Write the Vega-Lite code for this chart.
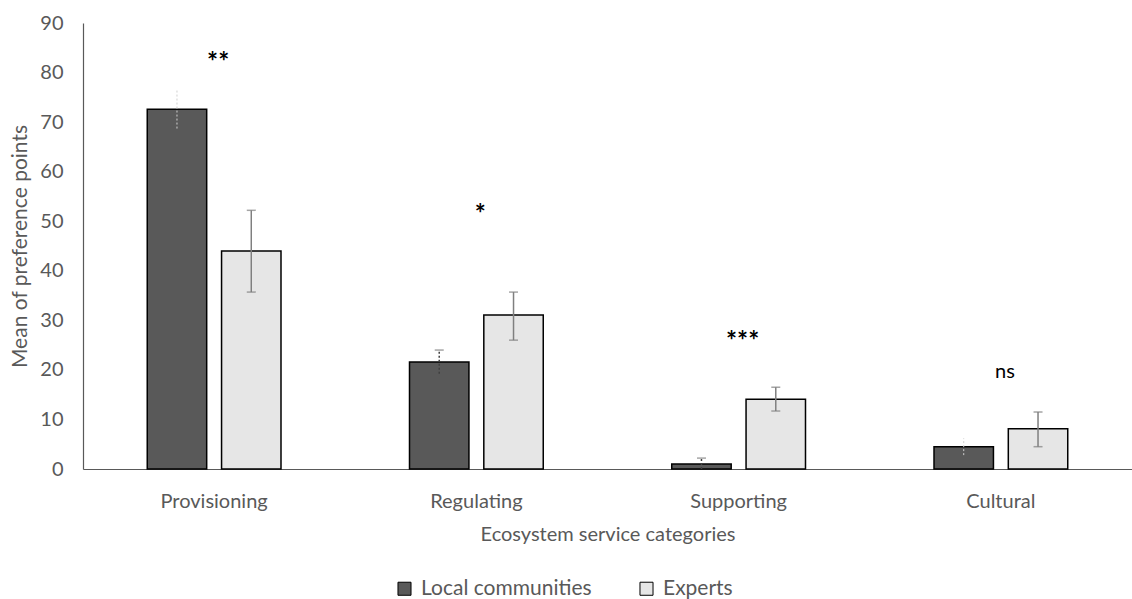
{
  "$schema": "https://vega.github.io/schema/vega-lite/v6.json",
  "width": 1049,
  "height": 446,
  "autosize": {"type": "none"},
  "padding": {"left": 83, "top": 23, "right": 0, "bottom": 130},
  "background": "white",
  "config": {"font": "Lato", "view": {"stroke": null}},
  "datasets": {
    "bars": [
      {"category": "Provisioning", "group": "Local communities", "mean": 72.6, "lo": 68.7, "hi": 76.5},
      {"category": "Provisioning", "group": "Experts", "mean": 44.0, "lo": 35.7, "hi": 52.2},
      {"category": "Regulating", "group": "Local communities", "mean": 21.6, "lo": 19.2, "hi": 24.0},
      {"category": "Regulating", "group": "Experts", "mean": 31.1, "lo": 26.0, "hi": 35.7},
      {"category": "Supporting", "group": "Local communities", "mean": 1.0, "lo": 0.0, "hi": 2.2},
      {"category": "Supporting", "group": "Experts", "mean": 14.1, "lo": 11.7, "hi": 16.5},
      {"category": "Cultural", "group": "Local communities", "mean": 4.5, "lo": 2.8, "hi": 6.2},
      {"category": "Cultural", "group": "Experts", "mean": 8.1, "lo": 4.5, "hi": 11.5}
    ],
    "notes": [
      {"category": "Provisioning", "label": "**", "y": 82.0},
      {"category": "Regulating", "label": "*", "y": 51.2},
      {"category": "Supporting", "label": "***", "y": 25.7},
      {"category": "Cultural", "label": "ns", "y": 19.6}
    ]
  },
  "encoding": {
    "x": {
      "field": "category",
      "type": "nominal",
      "sort": ["Provisioning", "Regulating", "Supporting", "Cultural"],
      "scale": {"paddingInner": 0.49, "paddingOuter": 0.245},
      "axis": {
        "title": "Ecosystem service categories",
        "titleFontSize": 20,
        "titleFontWeight": "normal",
        "titleColor": "#595959",
        "titlePadding": 13,
        "labelFontSize": 20,
        "labelColor": "#595959",
        "labelAngle": 0,
        "labelPadding": 22,
        "ticks": false,
        "domainColor": "#595959",
        "domainWidth": 1.2
      }
    }
  },
  "layer": [
    {
      "data": {"name": "bars"},
      "mark": {"type": "bar", "stroke": "black", "strokeWidth": 1.5},
      "encoding": {
        "xOffset": {"field": "group", "type": "nominal", "sort": ["Local communities", "Experts"], "scale": {"paddingInner": 0.2, "paddingOuter": 0}},
        "y": {
          "field": "mean",
          "type": "quantitative",
          "scale": {"domain": [0, 90]},
          "axis": {
            "values": [0, 10, 20, 30, 40, 50, 60, 70, 80, 90],
            "title": "Mean of preference points",
            "titleFontSize": 21,
            "titleFontWeight": "normal",
            "titleColor": "#595959",
            "titlePadding": 9,
            "labelFontSize": 20,
            "labelColor": "#595959",
            "labelPadding": 20,
            "ticks": false,
            "grid": false,
            "domain": true,
            "domainColor": "#595959",
            "domainWidth": 1.2
          }
        },
        "fill": {
          "field": "group",
          "type": "nominal",
          "sort": ["Local communities", "Experts"],
          "scale": {"domain": ["Local communities", "Experts"], "range": ["#595959", "#e6e6e6"]},
          "legend": {
            "title": null,
            "orient": "none",
            "direction": "horizontal",
            "legendX": 311,
            "legendY": 555,
            "symbolType": "square",
            "symbolSize": 170,
            "symbolStrokeColor": "black",
            "symbolStrokeWidth": 1,
            "labelFontSize": 21,
            "labelColor": "#595959",
            "labelLimit": 400,
            "labelOffset": 6,
            "columnPadding": 44
          }
        }
      }
    },
    {
      "data": {"name": "bars"},
      "transform": [{"filter": "datum.group === 'Experts'"}],
      "mark": {"type": "rule", "color": "#7f7f7f", "strokeWidth": 1.5},
      "encoding": {
        "xOffset": {"field": "group", "type": "nominal", "sort": ["Local communities", "Experts"]},
        "y": {"field": "lo", "type": "quantitative"},
        "y2": {"field": "hi"}
      }
    },
    {
      "data": {"name": "bars"},
      "transform": [{"filter": "datum.group === 'Local communities' && (datum.category === 'Regulating' || datum.category === 'Supporting')"}],
      "mark": {"type": "rule", "color": "#404040", "strokeWidth": 1.5, "strokeDash": [2, 2]},
      "encoding": {
        "xOffset": {"field": "group", "type": "nominal", "sort": ["Local communities", "Experts"]},
        "y": {"field": "lo", "type": "quantitative"},
        "y2": {"field": "hi"}
      }
    },
    {
      "data": {"name": "bars"},
      "transform": [{"filter": "datum.group === 'Local communities' && (datum.category === 'Provisioning' || datum.category === 'Cultural')"}],
      "mark": {"type": "rule", "color": "#d0d0d0", "strokeWidth": 1, "strokeDash": [2, 2]},
      "encoding": {
        "xOffset": {"field": "group", "type": "nominal", "sort": ["Local communities", "Experts"]},
        "y": {"field": "lo", "type": "quantitative"},
        "y2": {"field": "hi"}
      }
    },
    {
      "data": {"name": "bars"},
      "transform": [{"filter": "datum.group === 'Experts' || datum.category === 'Regulating' || datum.category === 'Supporting'"}],
      "mark": {"type": "tick", "color": "#7f7f7f", "thickness": 1.5, "size": 9, "orient": "horizontal"},
      "encoding": {
        "xOffset": {"field": "group", "type": "nominal", "sort": ["Local communities", "Experts"]},
        "y": {"field": "hi", "type": "quantitative"}
      }
    },
    {
      "data": {"name": "bars"},
      "transform": [{"filter": "datum.group === 'Experts'"}],
      "mark": {"type": "tick", "color": "#7f7f7f", "thickness": 1.5, "size": 9, "orient": "horizontal"},
      "encoding": {
        "xOffset": {"field": "group", "type": "nominal", "sort": ["Local communities", "Experts"]},
        "y": {"field": "lo", "type": "quantitative"}
      }
    },
    {
      "data": {"name": "notes"},
      "transform": [{"filter": "datum.label !== 'ns'"}],
      "mark": {"type": "text", "fontSize": 26, "fontWeight": "bold", "color": "black", "baseline": "middle", "dx": 4},
      "encoding": {
        "y": {"field": "y", "type": "quantitative"},
        "text": {"field": "label"}
      }
    },
    {
      "data": {"name": "notes"},
      "transform": [{"filter": "datum.label === 'ns'"}],
      "mark": {"type": "text", "fontSize": 20, "color": "black", "baseline": "middle", "dx": 4},
      "encoding": {
        "y": {"field": "y", "type": "quantitative"},
        "text": {"field": "label"}
      }
    }
  ]
}
